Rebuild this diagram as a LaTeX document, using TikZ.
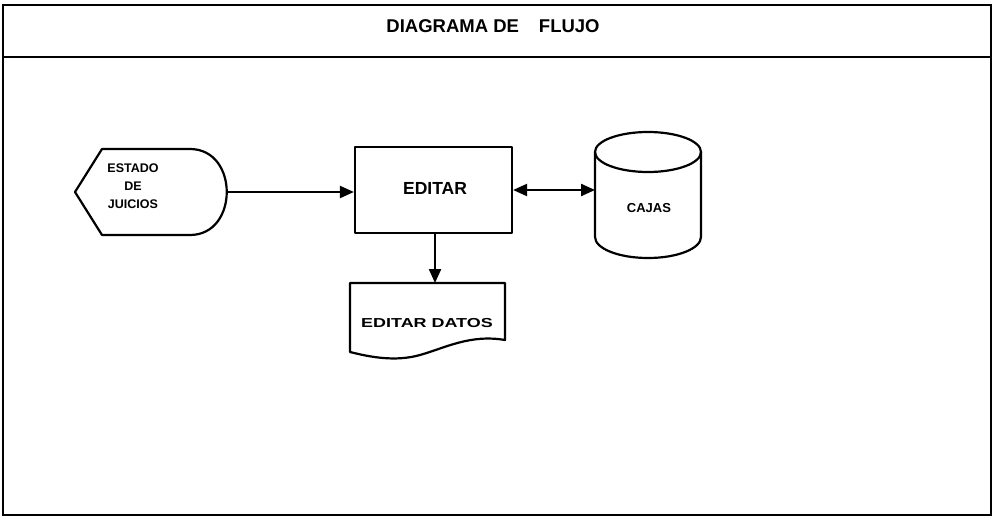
\documentclass[tikz,border=0pt]{standalone}
\usepackage{fontspec}
\setmainfont{Liberation Sans}
\usetikzlibrary{arrows.meta}
\tikzset{
  frame/.style={line width=2.4pt},
  shapeline/.style={line width=2.2pt, line join=round},
  flow/.style={line width=2.2pt, -{Triangle[length=14pt,width=12pt]}},
  flowboth/.style={line width=2.2pt, {Triangle[length=14pt,width=12pt]}-{Triangle[length=14pt,width=12pt]}},
  lbl/.style={font=\bfseries, inner sep=0pt, align=center}
}
\begin{document}
\begin{tikzpicture}[x=1pt,y=-1pt]
\useasboundingbox (0,0) rectangle (995,519);
% frame and header
\draw[frame] (3,5) rectangle (991,515);
\draw[frame] (3,57) -- (991,57);
\node[lbl, font=\bfseries\fontsize{18.5}{19}\selectfont] (title) at (493,26) {DIAGRAMA DE\hspace{20pt}FLUJO};

% display shape: ESTADO DE JUICIOS
\coordinate (dispL) at (75,192);
\coordinate (dispR) at (227,192);
\draw[shapeline] (dispL) -- (102,149) -- (190,149)
   .. controls (239,149) and (239,235) .. (190,235) -- (102,235) -- cycle;
\node[lbl, font=\bfseries\fontsize{12.5}{18}\selectfont] (estado) at (133,186) {ESTADO\\DE\\JUICIOS};

% process box
\node[draw, shapeline, minimum width=157pt, minimum height=86pt, inner sep=0pt] (editar) at (433.5,190) {};
\node[lbl, font=\bfseries\fontsize{17.5}{18}\selectfont] (editartxt) at (435,188) {EDITAR};

% cylinder
\coordinate (cylL) at (595,190);
\draw[shapeline] (595,152) -- (595,237) arc[start angle=180, end angle=360, x radius=53, y radius=-21]
   -- (701,152);
\draw[shapeline] (648,152) ellipse[x radius=53, y radius=20];
\node[lbl, font=\bfseries\fontsize{13}{14}\selectfont] (cajas) at (649,208) {CAJAS};

% document
\coordinate (docT) at (435,283);
\draw[shapeline] (350,283) -- (505,283) -- (505,340)
   .. controls (470,334) and (445,348) .. (420,355)
   .. controls (395,362) and (370,357) .. (350,352) -- cycle;
\node[lbl, font=\bfseries\fontsize{13}{14}\selectfont] (doc) at (427,323) {\scalebox{1.38}[1]{EDITAR DATOS}};

% connectors
\draw[flow] (dispR) -- (editar.west |- dispR);
\draw[flowboth] (editar.east |- cylL) -- (cylL);
\draw[flow] (editar.south -| docT) -- (docT);
\end{tikzpicture}
\end{document}
